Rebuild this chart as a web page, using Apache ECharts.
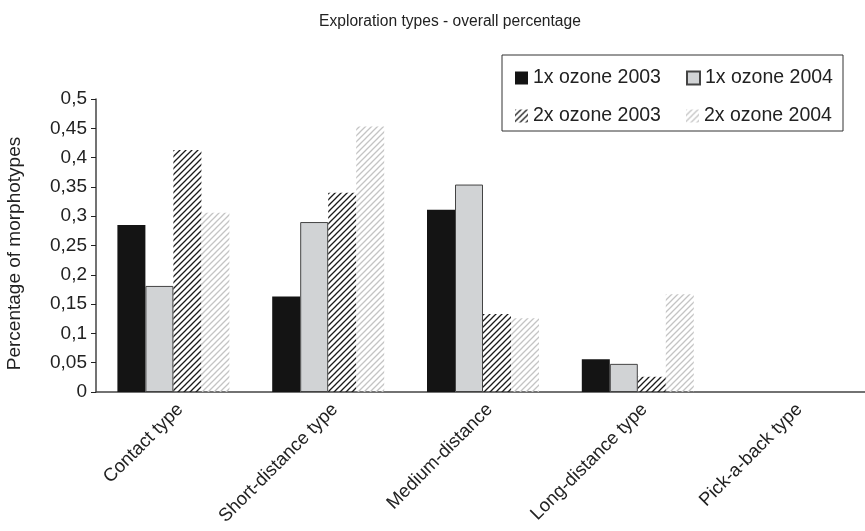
<!DOCTYPE html>
<html>
<head>
<meta charset="utf-8">
<script src="https://cdn.jsdelivr.net/npm/echarts@6/dist/echarts.min.js"></script>
<style>
  html, body { margin: 0; padding: 0; background: #fff; }
  #chart { width: 865px; height: 531px; }
</style>
</head>
<body>
<div id="chart"></div>
<script>
const categories = ['Contact type', 'Short-distance type', 'Medium-distance', 'Long-distance type', 'Pick-a-back type']
const seriesNames = ['1x ozone 2003', '1x ozone 2004', '2x ozone 2003', '2x ozone 2004']
const ozone1x2003 = [0.285, 0.163, 0.311, 0.056, 0]
const ozone1x2004 = [0.181, 0.290, 0.354, 0.048, 0]
const ozone2x2003 = [0.413, 0.340, 0.133, 0.026, 0]
const ozone2x2004 = [0.306, 0.453, 0.126, 0.167, 0]
const yTicks = [0, 0.5, 0.05]

// diagonal hatch tile
function hatch(color) {
    const c = document.createElement('canvas')
    const s = 6
    c.width = s
    c.height = s
    const ctx = c.getContext('2d')
    ctx.strokeStyle = color
    ctx.lineWidth = 1.3
    ctx.beginPath()
    ctx.moveTo(0, s); ctx.lineTo(s, 0)
    ctx.moveTo(-1, 1); ctx.lineTo(1, -1)
    ctx.moveTo(s - 1, s + 1); ctx.lineTo(s + 1, s - 1)
    ctx.stroke()
    return { image: c, repeat: 'repeat' }
}

const chart = echarts.init(document.getElementById('chart'))
const font = 'Liberation Sans, Arial, Helvetica, sans-serif'
const bar = (name, data, style) => ({
    name,
    type: 'bar',
    // no outline on empty bars
    data: data.map(v => v === 0 ? { value: 0, itemStyle: { borderWidth: 0 } } : v),
    barWidth: 28,
    barGap: '0%',
    itemStyle: style
})

chart.setOption({
    animation: false,
    textStyle: { fontFamily: font, color: '#222' },
    title: {
        text: 'Exploration types - overall percentage',
        left: 445,
        top: 9,
        textAlign: 'center',
        textStyle: { fontSize: 15.6, fontWeight: 'normal', color: '#222', fontFamily: font }
    },
    legend: {
        left: 502,
        top: 55,
        width: 330,
        padding: [13, 3, 5, 13],
        borderColor: '#333',
        borderWidth: 1,
        icon: 'rect',
        itemWidth: 13,
        itemHeight: 13,
        itemGap: 18,
        data: seriesNames,
        textStyle: { fontSize: 19.5, color: '#222', width: 135, lineHeight: 17, fontFamily: font }
    },
    grid: { left: 96, right: -5, top: 99, bottom: 139, containLabel: false, outerBoundsMode: 'none' },
    xAxis: {
        type: 'category',
        data: categories,
        axisLine: { lineStyle: { color: '#444', width: 1.5 } },
        axisTick: { length: 5, lineStyle: { color: '#222' } },
        axisLabel: { rotate: 45, interval: 0, fontSize: 18.5, color: '#222', margin: 8, verticalAlign: 'top' }
    },
    yAxis: {
        type: 'value',
        min: yTicks[0],
        max: yTicks[1],
        interval: yTicks[2],
        name: 'Percentage of morphotypes',
        nameLocation: 'middle',
        nameGap: 72,
        nameTextStyle: { fontSize: 19, color: '#222', padding: [0, 16, 0, 0] },
        splitLine: { show: false },
        axisLine: { show: true, lineStyle: { color: '#444', width: 1.5 } },
        axisTick: { show: true, length: 5, lineStyle: { color: '#222' } },
        axisLabel: {
            fontSize: 19,
            color: '#222',
            margin: 9,
            formatter: v => String(+v.toFixed(2)).replace('.', ',')
        }
    },
    series: [
        bar(seriesNames[0], ozone1x2003, { color: '#141414' }),
        bar(seriesNames[1], ozone1x2004, { color: '#d1d3d5', borderColor: '#444', borderWidth: 1 }),
        bar(seriesNames[2], ozone2x2003, { color: hatch('#1a1a1a') }),
        bar(seriesNames[3], ozone2x2004, { color: hatch('#c4c4c4') })
    ]
})
</script>
</body>
</html>
